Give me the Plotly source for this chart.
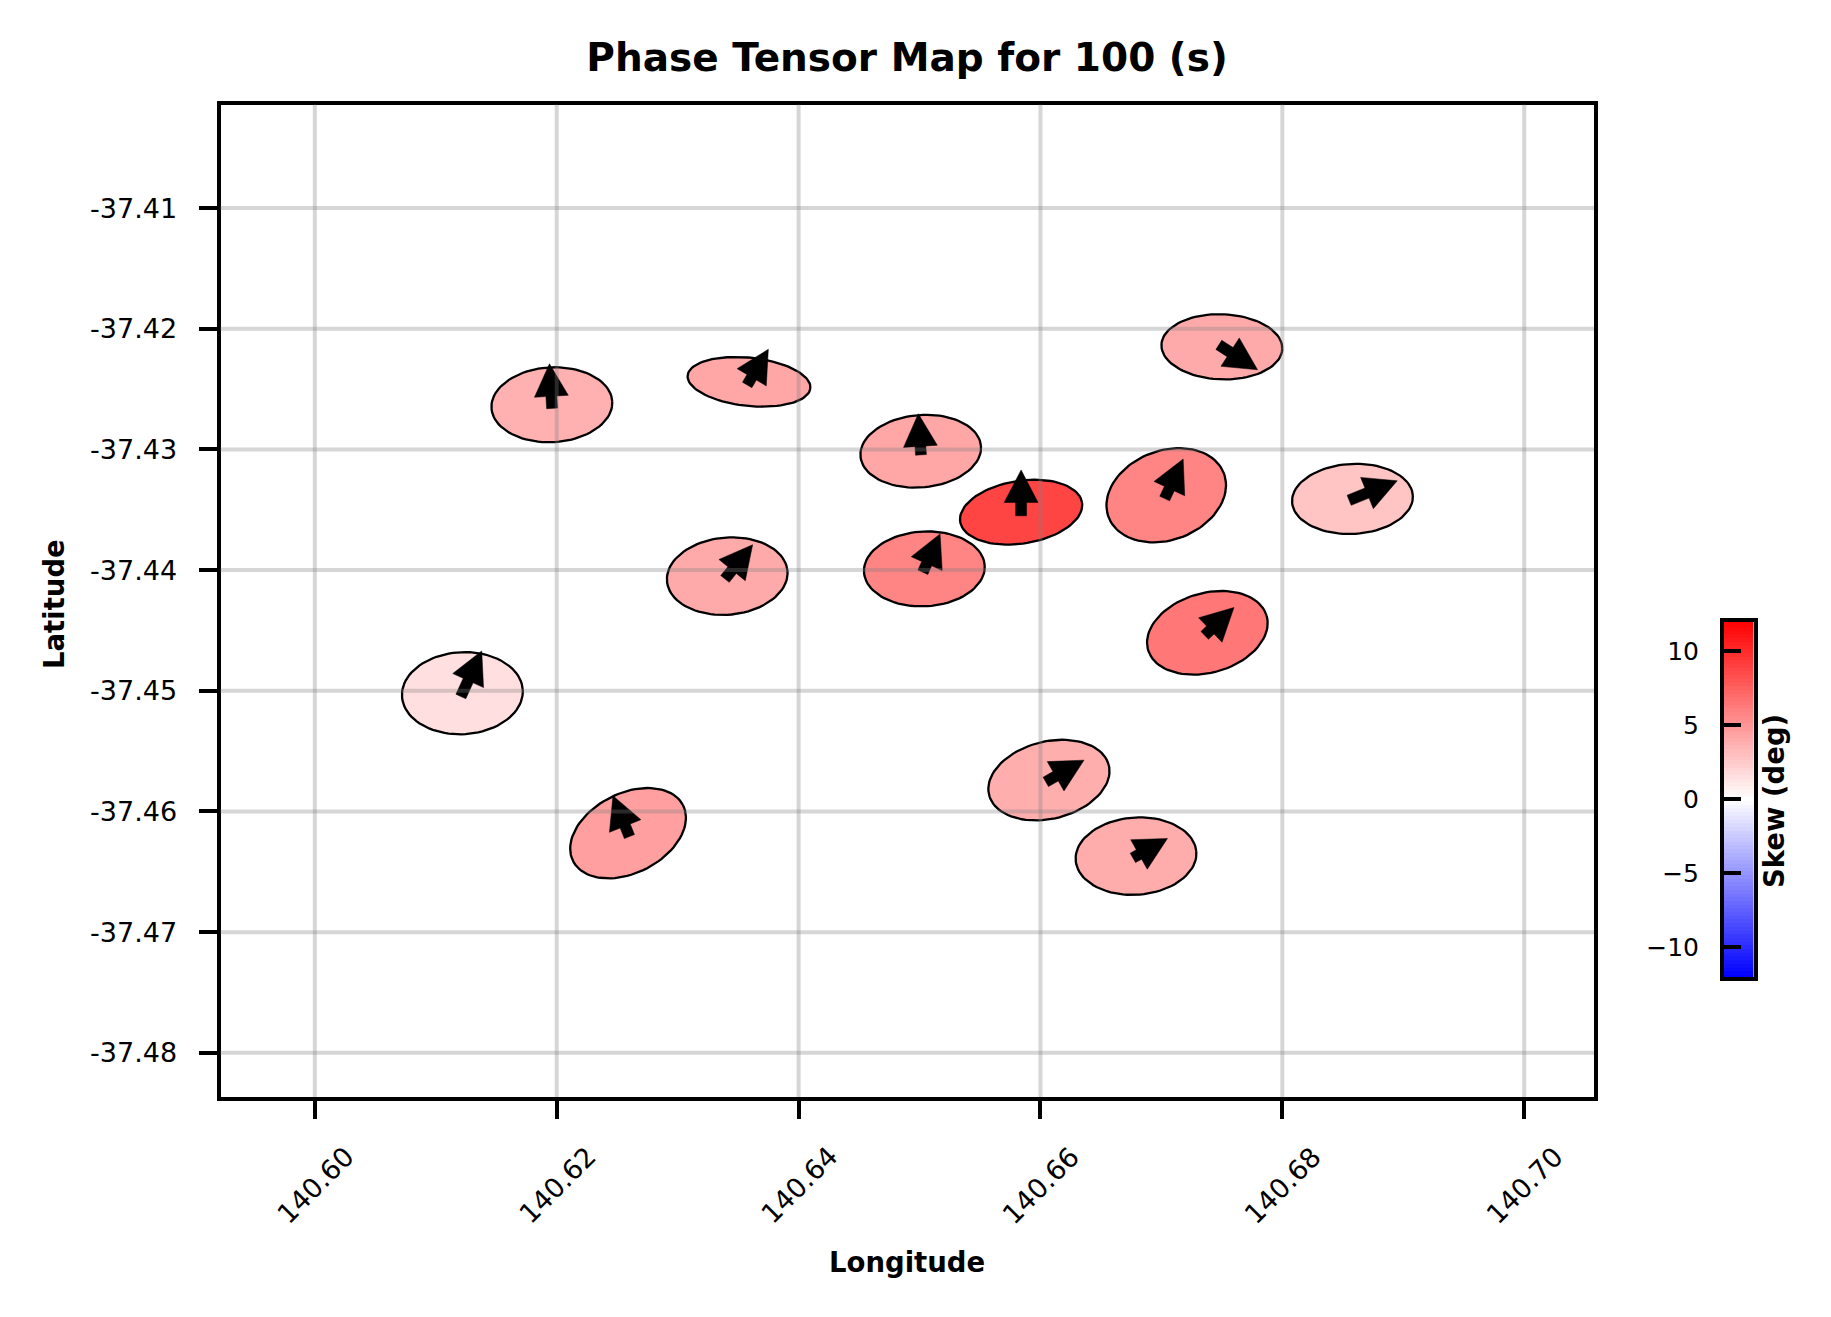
import numpy as np
import plotly.graph_objects as go

# station centres and ellipse geometry
station_lon = [140.6196, 140.6359, 140.6501, 140.6584, 140.6341, 140.6504, 140.6704, 140.6858, 140.6750, 140.6122, 140.6738, 140.6259, 140.6607, 140.6679]
station_lat = [-37.4263, -37.4244, -37.43015, -37.4352, -37.4405, -37.4399, -37.4338, -37.4341, -37.4215, -37.4502, -37.4452, -37.4618, -37.4574, -37.4637]
semi_major = [0.0050, 0.0051, 0.0050, 0.0051, 0.0050, 0.0050, 0.0051, 0.0050, 0.0050, 0.0050, 0.0051, 0.0051, 0.0051, 0.0050]
semi_minor = [0.0031, 0.0020, 0.0030, 0.0026, 0.0032, 0.0031, 0.0037, 0.0029, 0.0027, 0.0034, 0.0033, 0.0033, 0.0032, 0.0032]
tilt_deg = [3, -6, 5, 9, 5, 3, 21, 3, -2, 3, 16, 27, 14, 4]
skew = [3.7, 4.2, 4.2, 8.8, 4.0, 5.8, 5.8, 2.8, 4.0, 1.5, 6.4, 4.5, 3.8, 3.9]

# arrow tip offsets from the centre, in degrees
arrow_dlon = [-0.0002, 0.0016, -0.0002, 0.0000, 0.0021, 0.0013, 0.0014, 0.0037, 0.00295, 0.0016, 0.0022, -0.00125, 0.0029, 0.0026]
arrow_dlat = [0.0034, 0.0027, 0.0031, 0.0035, 0.0026, 0.0029, 0.0030, 0.0015, -0.0019, 0.0035, 0.0021, 0.0031, 0.00165, 0.00146]

x_ticks = [140.60, 140.62, 140.64, 140.66, 140.68, 140.70]
y_ticks = [-37.41, -37.42, -37.43, -37.44, -37.45, -37.46, -37.47, -37.48]
cbar_ticks = [-10, -5, 0, 5, 10]
cbar_levels = [v / 4 for v in range(-48, 49)]

FONT = "DejaVu Sans"
W, H = 1831, 1317
LEFT, RIGHT, TOP, BOTTOM = 212.5, 1586, 96.5, 1089
GRID = "rgba(128,128,128,0.32)"


def skew_color(v):
    # blue-white-red over -12..12
    t = max(-1, min(1, v / 12))
    if t >= 0:
        c = int(round(255 * (1 - t)))
        return f"rgb(255,{c},{c})"
    c = int(round(255 * (1 + t)))
    return f"rgb({c},{c},255)"


def ellipse(lon, lat, a, b, tilt):
    t = np.linspace(0, 2 * np.pi, 90)
    r = np.radians(tilt)
    x = a * np.cos(t) * np.cos(r) - b * np.sin(t) * np.sin(r)
    y = a * np.cos(t) * np.sin(r) + b * np.sin(t) * np.cos(r)
    return lon + x, lat + y


def arrow(lon, lat, dx, dy):
    # shaft half width, head size and tail overshoot in degrees
    length = np.hypot(dx, dy)
    ux, uy = dx / length, dy / length
    nx, ny = -uy, ux
    sw, hw, hl, tail = 0.00045, 0.0014, 0.0027, 0.0003
    pts = [(-tail, sw), (length - hl, sw), (length - hl, hw), (length, 0), (length - hl, -hw), (length - hl, -sw), (-tail, -sw), (-tail, sw)]
    xs = [lon + p * ux + q * nx for p, q in pts]
    ys = [lat + p * uy + q * ny for p, q in pts]
    return xs, ys


fig = go.Figure()

for i in range(len(station_lon)):
    ex, ey = ellipse(station_lon[i], station_lat[i], semi_major[i], semi_minor[i], tilt_deg[i])
    fig.add_trace(go.Scatter(x=ex, y=ey, mode="lines", fill="toself", fillcolor=skew_color(skew[i]),
                             line=dict(color="black", width=2.3), showlegend=False, hoverinfo="skip"))

for i in range(len(station_lon)):
    ax, ay = arrow(station_lon[i], station_lat[i], arrow_dlon[i], arrow_dlat[i])
    fig.add_trace(go.Scatter(x=ax, y=ay, mode="lines", fill="toself", fillcolor="black",
                             line=dict(color="black", width=0.5), showlegend=False, hoverinfo="skip"))

# colour bar drawn as its own small axes so labels can sit on the left
fig.add_trace(go.Heatmap(x=[0, 1], y=cbar_levels, z=[[v, v] for v in cbar_levels], zmin=-12, zmax=12,
                         colorscale=[[0, "rgb(0,0,255)"], [0.5, "white"], [1, "rgb(255,0,0)"]],
                         showscale=False, xaxis="x2", yaxis="y2", hoverinfo="skip"))

# the grid sits on top of the ellipses in the original
for v in x_ticks:
    fig.add_shape(type="line", xref="x", yref="y domain", x0=v, x1=v, y0=0, y1=1, line=dict(color=GRID, width=4), layer="above")
for v in y_ticks:
    fig.add_shape(type="line", xref="x domain", yref="y", x0=0, x1=1, y0=v, y1=v, line=dict(color=GRID, width=4), layer="above")

annotations = [
    dict(text="<b>Longitude</b>", xref="paper", yref="paper", x=899 / W, y=1 - 1253.5 / H, showarrow=False,
         font=dict(size=27.5), xanchor="center", yanchor="middle"),
    dict(text="<b>Latitude</b>", xref="paper", yref="paper", x=45.5 / W, y=1 - 596.5 / H, textangle=-90, showarrow=False,
         font=dict(size=27.5), xanchor="center", yanchor="middle"),
    dict(text="<b>Skew (deg)</b>", xref="paper", yref="paper", x=1766 / W, y=1 - 793 / H, textangle=-90, showarrow=False,
         font=dict(size=27.5), xanchor="center", yanchor="middle"),
]
# rotated x labels are centred under their ticks
for v in x_ticks:
    annotations.append(dict(text=f"{v:.2f}", xref="x", yref="paper", x=v, y=1 - 1177 / H, textangle=-45, showarrow=False,
                            font=dict(size=27), xanchor="center", yanchor="middle"))

fig.update_layout(
    width=W, height=H, autosize=False,
    paper_bgcolor="white", plot_bgcolor="rgba(0,0,0,0)",
    margin=dict(l=0, r=0, t=0, b=0),
    font=dict(family=FONT, color="black"),
    title=dict(text="<b>Phase Tensor Map for 100 (s)</b>", font=dict(size=39, family=FONT, color="black"),
               x=899 / W, xanchor="center", y=1 - 49 / H, yanchor="middle"),
    xaxis=dict(domain=[LEFT / W, RIGHT / W], range=[140.5922, 140.70577], tickvals=x_ticks,
               showticklabels=False, ticks="outside", ticklen=18, tickwidth=4,
               tickcolor="black", showgrid=False,
               zeroline=False, showline=True, linecolor="black", linewidth=4, mirror=True),
    yaxis=dict(domain=[1 - BOTTOM / H, 1 - TOP / H], range=[-37.48366, -37.40142], tickvals=y_ticks,
               ticktext=[f"{v:.2f}" for v in y_ticks], ticks="outside", ticklen=18, tickwidth=4,
               tickcolor="black", tickfont=dict(size=27), showgrid=False, ticklabelstandoff=16,
               zeroline=False, showline=True, linecolor="black", linewidth=4, mirror=True),
    xaxis2=dict(domain=[1716 / W, 1745.5 / W], range=[0, 1], anchor="y2", showticklabels=False, ticks="",
                showgrid=False, zeroline=False, showline=True, linecolor="black", linewidth=4, mirror=True),
    yaxis2=dict(domain=[1 - 969 / H, 1 - 613.5 / H], range=[-12, 12], anchor="x2", tickvals=cbar_ticks, ticks="inside",
                ticklen=17, tickwidth=4, tickcolor="black", tickfont=dict(size=25), showgrid=False, zeroline=False,
                ticklabelstandoff=16, showline=True, linecolor="black", linewidth=4, mirror=True),
    annotations=annotations,
)

fig.write_html("out.html")
